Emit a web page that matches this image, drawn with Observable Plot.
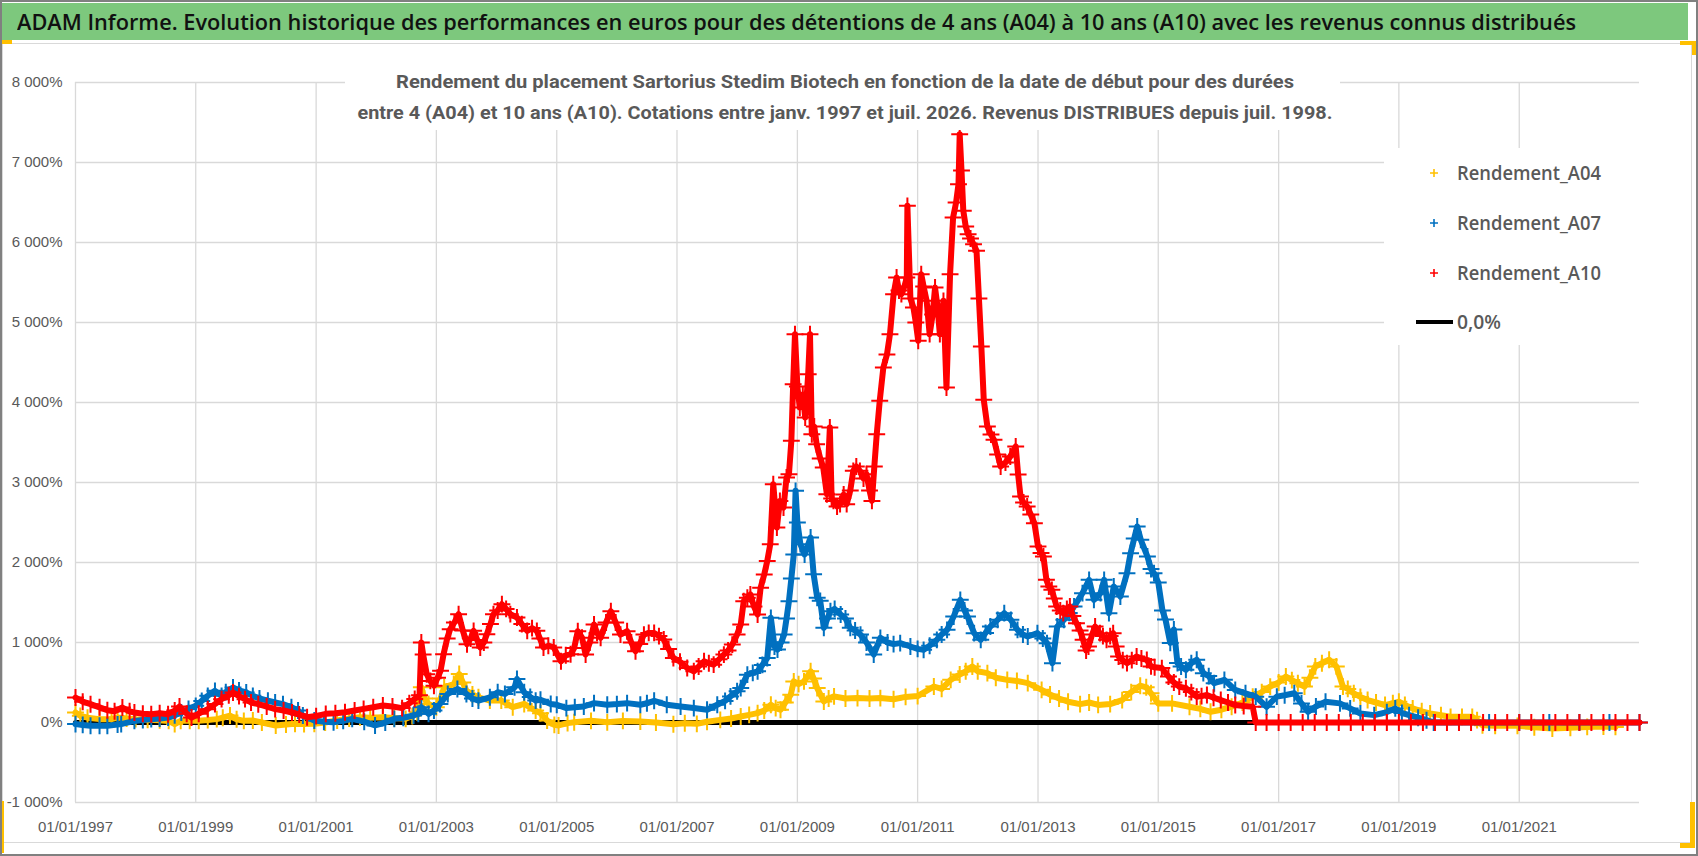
<!DOCTYPE html>
<html><head><meta charset="utf-8">
<script src="https://cdn.jsdelivr.net/npm/d3@7"></script>
<script src="https://cdn.jsdelivr.net/npm/@observablehq/plot@0.6"></script>
<style>
html,body{margin:0;padding:0;background:#fff;}
#page{position:relative;width:1698px;height:856px;overflow:hidden;background:#fff;}
#titlebar{position:absolute;left:2px;top:3px;width:1686px;height:37px;background:#7dc87d;}
#titletext{position:absolute;left:15px;top:0;height:37px;line-height:37px;font-family:"Open Sans";font-weight:600;font-size:22px;color:#111;white-space:nowrap;transform-origin:0 50%;}
#chartframe{position:absolute;left:2px;top:43px;width:1690px;height:800px;box-sizing:border-box;border:1px solid #d9d9d9;}
#plot{position:absolute;left:0;top:42px;}
#border{position:absolute;left:0;top:0;width:1698px;height:856px;box-sizing:border-box;border:2px solid #808080;pointer-events:none;}
.yel{position:absolute;background:#ffc000;}
</style></head>
<body>
<div id="page">
  <div id="titlebar"><span id="titletext">ADAM Informe. Evolution historique des performances en euros pour des détentions de 4 ans (A04) à 10 ans (A10) avec les revenus connus distribués</span></div>
  <div id="chartframe"></div>
  <div id="plot"></div>
  <div class="yel" style="left:0;top:40px;width:12px;height:4px"></div>
  <div class="yel" style="left:1680px;top:41px;width:16px;height:4px"></div>
  <div class="yel" style="left:1692px;top:41px;width:4px;height:14px"></div>
  <div class="yel" style="left:0;top:801px;width:4px;height:52px"></div>
  <div class="yel" style="left:1690px;top:802px;width:5px;height:46px"></div>
  <div class="yel" style="left:1680px;top:843px;width:15px;height:5px"></div>
  <div id="border"></div>
</div>
<script>
// ---------- DATA ----------
const seriesNames = ["Rendement_A04", "Rendement_A07", "Rendement_A10", "0,0%"];
const seriesColors = ["#FFC000", "#0070C0", "#FF0000", "#000000"];

const xTickYears = [1997, 1999, 2001, 2003, 2005, 2007, 2009, 2011, 2013, 2015, 2017, 2019, 2021];
const xDomainYears = [1997, 2023];
const yTicks = [-1000, 0, 1000, 2000, 3000, 4000, 5000, 6000, 7000, 8000];
const yDomain = [-1000, 8000];

const subtitleLines = [
  "Rendement du placement Sartorius Stedim Biotech en fonction de la date de début pour des durées",
  "entre 4 (A04) et 10 ans (A10). Cotations entre janv. 1997 et juil. 2026. Revenus DISTRIBUES depuis juil. 1998."
];

// Rendement_A04 (yellow)
const a04Years = [1997.00,1997.08,1997.20,1997.40,1997.60,1997.70,1997.85,1998.00,1998.20,1998.40,1998.55,1998.65,1998.75,1998.90,1999.05,1999.20,1999.35,1999.45,1999.57,1999.68,1999.80,1999.95,2000.10,2000.33,2000.50,2000.65,2000.80,2000.97,2001.15,2001.35,2001.55,2001.73,2001.90,2002.11,2002.30,2002.49,2002.60,2002.68,2002.75,2002.80,2002.87,2003.00,2003.07,2003.13,2003.29,2003.38,2003.44,2003.50,2003.60,2003.70,2003.89,2004.08,2004.27,2004.46,2004.65,2004.73,2004.84,2004.96,2005.03,2005.18,2005.29,2005.57,2005.84,2006.10,2006.39,2006.65,2006.94,2007.13,2007.33,2007.50,2007.72,2007.90,2008.06,2008.20,2008.34,2008.45,2008.56,2008.64,2008.72,2008.80,2008.89,2008.94,2009.02,2009.11,2009.22,2009.27,2009.33,2009.44,2009.52,2009.61,2009.80,2010.00,2010.20,2010.38,2010.60,2010.80,2011.00,2011.27,2011.40,2011.55,2011.70,2011.80,2011.91,2012.00,2012.16,2012.30,2012.49,2012.65,2012.83,2013.06,2013.20,2013.35,2013.50,2013.70,2013.85,2014.00,2014.20,2014.40,2014.55,2014.70,2014.80,2014.88,2015.00,2015.23,2015.52,2015.70,2015.87,2016.05,2016.22,2016.40,2016.57,2016.72,2016.86,2017.00,2017.12,2017.22,2017.32,2017.43,2017.52,2017.61,2017.72,2017.84,2017.96,2018.07,2018.15,2018.25,2018.36,2018.48,2018.62,2018.77,2018.90,2019.00,2019.10,2019.23,2019.38,2019.52,2019.70,2019.86,2020.05,2020.22,2020.30,2020.39,2020.60,2020.97,2021.25,2021.55,2021.85,2022.13,2022.40,2022.60];
const a04Values = [125,83,60,42,42,62,50,42,35,29,20,-20,21,21,21,30,42,60,87,40,21,25,0,-37,-25,-17,-20,-17,0,25,50,66,60,66,55,46,80,129,440,300,232,191,300,440,481,606,500,398,350,315,274,274,191,232,149,117,25,-29,-37,-8,4,21,4,20,12,0,-21,-10,-17,10,33,50,75,95,117,150,222,180,159,250,347,514,480,514,640,550,430,263,300,326,300,305,300,305,290,320,330,450,420,533,600,640,700,640,617,560,533,520,492,408,350,300,260,230,250,220,230,280,380,460,440,365,239,239,197,170,134,160,197,250,323,380,449,500,575,530,491,449,560,701,740,785,701,449,420,365,320,281,250,218,240,260,220,176,140,113,90,71,71,71,30,-34,-40,-42,-60,-76,-65,-55,-50,-55];

// Rendement_A07 (blue)
const a07Years = [1997.00,1997.12,1997.25,1997.40,1997.53,1997.70,1997.76,1997.98,1998.12,1998.26,1998.40,1998.54,1998.65,1998.76,1998.88,1999.00,1999.10,1999.20,1999.32,1999.43,1999.50,1999.62,1999.72,1999.84,1999.95,2000.06,2000.20,2000.32,2000.45,2000.59,2000.70,2000.78,2000.97,2001.13,2001.29,2001.45,2001.60,2001.80,2001.98,2002.15,2002.30,2002.45,2002.62,2002.70,2002.75,2002.87,2002.96,2003.06,2003.19,2003.35,2003.50,2003.60,2003.70,2003.89,2004.02,2004.14,2004.30,2004.34,2004.46,2004.56,2004.65,2004.73,2004.90,2005.00,2005.16,2005.30,2005.45,2005.62,2005.84,2006.00,2006.17,2006.39,2006.50,2006.62,2006.83,2007.06,2007.28,2007.50,2007.67,2007.80,2007.89,2008.00,2008.06,2008.17,2008.26,2008.34,2008.42,2008.50,2008.56,2008.62,2008.67,2008.73,2008.78,2008.82,2008.86,2008.90,2008.94,2008.97,2009.00,2009.05,2009.12,2009.22,2009.27,2009.33,2009.38,2009.44,2009.50,2009.55,2009.62,2009.72,2009.80,2009.88,2009.96,2010.05,2010.15,2010.27,2010.38,2010.50,2010.60,2010.71,2010.88,2011.00,2011.10,2011.20,2011.32,2011.40,2011.49,2011.60,2011.71,2011.78,2011.83,2011.94,2012.05,2012.13,2012.21,2012.33,2012.44,2012.55,2012.66,2012.75,2012.83,2012.99,2013.08,2013.15,2013.24,2013.32,2013.43,2013.52,2013.60,2013.74,2013.85,2013.93,2014.04,2014.10,2014.18,2014.26,2014.37,2014.48,2014.54,2014.60,2014.65,2014.71,2014.82,2014.88,2014.93,2015.00,2015.07,2015.12,2015.20,2015.26,2015.32,2015.38,2015.46,2015.55,2015.64,2015.75,2015.84,2015.93,2016.10,2016.28,2016.45,2016.62,2016.80,2016.97,2017.10,2017.26,2017.38,2017.49,2017.62,2017.78,2018.02,2018.19,2018.36,2018.59,2018.80,2018.94,2019.05,2019.17,2019.32,2019.46,2019.58,2020.00,2020.50,2021.00,2021.50,2022.00,2022.50,2023.00];
const a07Values = [-20,-30,-40,-40,-40,-25,-20,20,30,42,50,62,90,125,170,208,270,333,396,333,380,437,400,375,333,300,274,250,229,191,150,87,25,10,4,20,46,10,-37,0,46,60,87,110,191,108,150,232,357,419,357,300,274,315,378,357,440,544,378,320,274,284,232,222,180,190,200,242,222,230,242,222,240,272,222,200,180,159,222,270,326,390,430,598,620,640,720,807,1308,950,911,1000,1099,1300,1517,1800,2100,2896,2500,2229,2100,2312,1854,1559,1521,1183,1300,1392,1420,1350,1300,1183,1150,1099,1000,849,1058,1000,980,992,950,920,908,960,1033,1100,1158,1325,1533,1400,1325,1117,1033,1120,1200,1283,1367,1283,1158,1100,1075,1117,1050,992,742,1200,1283,1370,1450,1617,1783,1533,1617,1783,1367,1700,1575,1867,2117,2300,2450,2283,2075,1919,1867,1751,1400,1289,995,1163,743,700,659,742,785,617,580,491,533,407,365,323,197,323,340,365,239,134,200,260,239,176,113,92,130,176,120,92,60,29,0,0,0,0,0,0,0,0];

// Rendement_A10 (red)
const a10Years = [1997.00,1997.12,1997.25,1997.40,1997.53,1997.65,1997.78,1997.90,1997.98,1998.12,1998.26,1998.40,1998.54,1998.65,1998.73,1998.85,1998.93,1999.05,1999.20,1999.32,1999.43,1999.55,1999.62,1999.72,1999.82,1999.92,2000.04,2000.18,2000.32,2000.46,2000.60,2000.72,2000.85,2001.00,2001.16,2001.32,2001.48,2001.64,2001.79,2001.95,2002.11,2002.27,2002.43,2002.55,2002.64,2002.72,2002.75,2002.78,2002.84,2002.90,2002.96,2003.02,2003.07,2003.12,2003.18,2003.23,2003.30,2003.37,2003.44,2003.51,2003.57,2003.62,2003.68,2003.73,2003.79,2003.84,2003.90,2003.95,2004.02,2004.09,2004.16,2004.23,2004.34,2004.42,2004.51,2004.59,2004.67,2004.72,2004.78,2004.86,2004.95,2005.07,2005.15,2005.23,2005.29,2005.35,2005.42,2005.48,2005.55,2005.62,2005.67,2005.73,2005.82,2005.90,2005.98,2006.06,2006.17,2006.24,2006.31,2006.38,2006.45,2006.53,2006.62,2006.70,2006.78,2006.86,2006.94,2007.05,2007.17,2007.28,2007.36,2007.45,2007.53,2007.61,2007.70,2007.78,2007.85,2007.92,2008.00,2008.06,2008.11,2008.17,2008.22,2008.28,2008.34,2008.39,2008.45,2008.50,2008.55,2008.60,2008.66,2008.71,2008.77,2008.82,2008.86,2008.90,2008.93,2008.96,2009.00,2009.04,2009.09,2009.13,2009.18,2009.21,2009.24,2009.28,2009.32,2009.38,2009.43,2009.49,2009.54,2009.57,2009.60,2009.66,2009.71,2009.77,2009.82,2009.88,2009.93,2009.98,2010.04,2010.10,2010.15,2010.20,2010.24,2010.28,2010.32,2010.37,2010.43,2010.49,2010.54,2010.60,2010.65,2010.69,2010.73,2010.78,2010.82,2010.83,2010.88,2010.93,2010.97,2011.01,2011.06,2011.10,2011.15,2011.20,2011.25,2011.29,2011.33,2011.37,2011.43,2011.48,2011.54,2011.59,2011.64,2011.68,2011.70,2011.73,2011.76,2011.80,2011.84,2011.88,2011.93,2011.98,2012.02,2012.06,2012.10,2012.16,2012.22,2012.27,2012.33,2012.38,2012.46,2012.54,2012.63,2012.67,2012.71,2012.76,2012.82,2012.88,2012.94,2013.00,2013.05,2013.09,2013.14,2013.18,2013.23,2013.27,2013.31,2013.37,2013.42,2013.48,2013.53,2013.58,2013.64,2013.70,2013.75,2013.80,2013.84,2013.90,2013.95,2014.03,2014.08,2014.14,2014.20,2014.25,2014.30,2014.34,2014.41,2014.48,2014.56,2014.64,2014.72,2014.81,2014.88,2014.94,2015.06,2015.17,2015.26,2015.35,2015.46,2015.55,2015.64,2015.72,2015.81,2015.92,2016.04,2016.16,2016.28,2016.42,2016.57,2016.62,2016.80,2017.00,2017.20,2017.40,2017.60,2017.80,2018.00,2018.20,2018.40,2018.60,2018.80,2019.00,2019.20,2019.40,2019.60,2019.80,2020.00,2020.20,2020.40,2020.60,2020.80,2021.00,2021.20,2021.40,2021.60,2021.80,2022.00,2022.20,2022.40,2022.60,2022.80,2023.00];
const a10Values = [312,260,229,190,154,140,187,140,125,110,104,115,104,150,200,110,62,110,167,230,292,340,375,330,292,250,229,200,167,150,125,100,66,80,108,115,129,150,170,190,212,200,180,240,295,340,1000,850,604,520,458,560,646,854,1050,1167,1250,1354,1150,979,1050,1146,1030,938,1000,1104,1230,1354,1400,1479,1420,1354,1312,1230,1146,1180,1146,1050,938,960,938,765,840,854,932,1141,1060,849,1000,1225,1120,1058,1250,1392,1250,1099,1141,1000,890,980,1099,1120,1120,1080,1037,920,807,760,681,640,700,765,740,723,790,849,900,974,1100,1225,1517,1560,1601,1450,1350,1685,1850,2019,2229,2979,2437,2770,2687,3062,3104,3521,4229,4854,4200,3937,4100,3812,4354,4854,3604,3700,3479,3300,3187,2854,3687,2800,2770,2700,2729,2850,2729,2900,3146,3200,3146,3050,3104,2900,2770,3200,3604,4021,4437,4600,4854,5354,5562,5400,5354,5450,5562,6458,5300,5187,5000,4771,5604,5450,5271,4854,5100,5437,5200,4854,5271,4187,5604,6312,6500,6729,7354,6900,6396,6200,6104,6050,5979,5896,5300,4700,4033,3700,3600,3533,3350,3200,3250,3325,3450,3100,2825,2750,2700,2600,2492,2200,2120,2075,1783,1700,1658,1550,1450,1400,1367,1420,1450,1330,1242,1150,1033,900,950,1100,1200,1117,1080,1033,1080,1117,950,825,780,742,780,825,800,783,701,690,680,575,500,449,428,380,323,330,344,310,281,250,218,205,197,0,0,0,0,0,0,0,0,0,0,0,0,0,0,0,0,0,0,0,0,0,0,0,0,0,0,0,0,0,0,0,0,0];

// 0,0% reference line (black)
const zeroYears = [1997, 2023];
const zeroValues = [0, 0];

// ---------- BUILD ----------
function yearToDate(y) {
  const yr = Math.floor(y);
  const s = Date.UTC(yr, 0, 1), e = Date.UTC(yr + 1, 0, 1);
  return new Date(s + (y - yr) * (e - s));
}
const rows = (years, values) => years.map((y, i) => ({date: yearToDate(y), value: values[i]}));
const a04 = rows(a04Years, a04Values);
const a07 = rows(a07Years, a07Values);
const a10 = rows(a10Years, a10Values);
const zero = rows(zeroYears, zeroValues);
const xTicks = xTickYears.map(yearToDate);

const fmtPct = d => (d < 0 ? "-" : "") + d3.format(",")(Math.abs(d)).replace(/,/g, " ") + "%";
const fmtDate = d3.utcFormat("%d/%m/%Y");

const seriesMarks = (data, color) => [
  Plot.line(data, {x: "date", y: "value", stroke: color, strokeWidth: 6, strokeLinejoin: "round", strokeLinecap: "round"}),
  Plot.dot(data, {x: "date", y: "value", symbol: "plus", r: 5.5, stroke: color, strokeWidth: 2, fill: "none"})
];

const chart = Plot.plot({
  width: 1698, height: 814,
  marginLeft: 75, marginRight: 59, marginTop: 40, marginBottom: 54,
  x: {type: "utc", domain: xDomainYears.map(yearToDate)},
  y: {domain: yDomain},
  style: {background: "transparent", color: "#595959"},
  marks: [
    Plot.gridY(yTicks, {stroke: "#d9d9d9", strokeOpacity: 1, strokeWidth: 1.3}),
    Plot.gridX(xTicks, {stroke: "#d9d9d9", strokeOpacity: 1, strokeWidth: 1.3}),
    Plot.axisY(yTicks, {tickSize: 0, tickPadding: 13, tickFormat: fmtPct, label: null, fontSize: 15, fontFamily: "Liberation Sans", fill: "#595959"}),
    Plot.axisX(xTicks, {tickSize: 0, tickPadding: 19, tickFormat: fmtDate, label: null, fontSize: 15, fontFamily: "Liberation Sans", fill: "#595959"}),
    Plot.line(zero, {x: "date", y: "value", stroke: seriesColors[3], strokeWidth: 5}),
    ...seriesMarks(a04, seriesColors[0]),
    ...seriesMarks(a07, seriesColors[1]),
    ...seriesMarks(a10, seriesColors[2])
  ]
});
document.getElementById("plot").appendChild(chart);

// ---------- OVERLAYS: subtitle & legend ----------
const svg = d3.select(chart);
const sub = svg.append("g");
sub.append("rect").attr("x", 345).attr("y", 18).attr("width", 995).attr("height", 70).attr("fill", "white");
const subLens = [898, 975];
const subBase = [46, 77];
subtitleLines.forEach((t, i) => {
  sub.append("text").attr("x", 845).attr("y", subBase[i]).attr("text-anchor", "middle")
    .attr("font-family", "Roboto").attr("font-weight", 700).attr("font-size", 18.5).attr("fill", "#595959")
    .attr("textLength", subLens[i]).attr("lengthAdjust", "spacingAndGlyphs").text(t);
});

const leg = svg.append("g").attr("text-anchor", "start");
leg.append("rect").attr("x", 1384).attr("y", 106).attr("width", 262).attr("height", 197).attr("fill", "white");
const legY = [131, 181, 231, 280];
const legLens = [144, 144, 144, 44];
seriesNames.forEach((name, i) => {
  if (i < 3) {
    leg.append("path").attr("d", `M${1430},${legY[i]}h8M${1434},${legY[i]-4}v8`)
      .attr("stroke", seriesColors[i]).attr("stroke-width", 1.6);
  } else {
    leg.append("line").attr("x1", 1416).attr("x2", 1453).attr("y1", legY[i]).attr("y2", legY[i])
      .attr("stroke", seriesColors[i]).attr("stroke-width", 4);
  }
  leg.append("text").attr("x", 1457).attr("y", legY[i] + 7).attr("text-anchor", "start")
    .attr("font-family", "Open Sans").attr("font-weight", 600).attr("font-size", 20).attr("fill", "#595959")
    .attr("textLength", legLens[i]).attr("lengthAdjust", "spacingAndGlyphs").text(name);
});

// title width fit
const tt = document.getElementById("titletext");
const w = tt.getBoundingClientRect().width;
tt.style.transform = `scaleX(${1559 / w})`;
</script>
</body></html>
